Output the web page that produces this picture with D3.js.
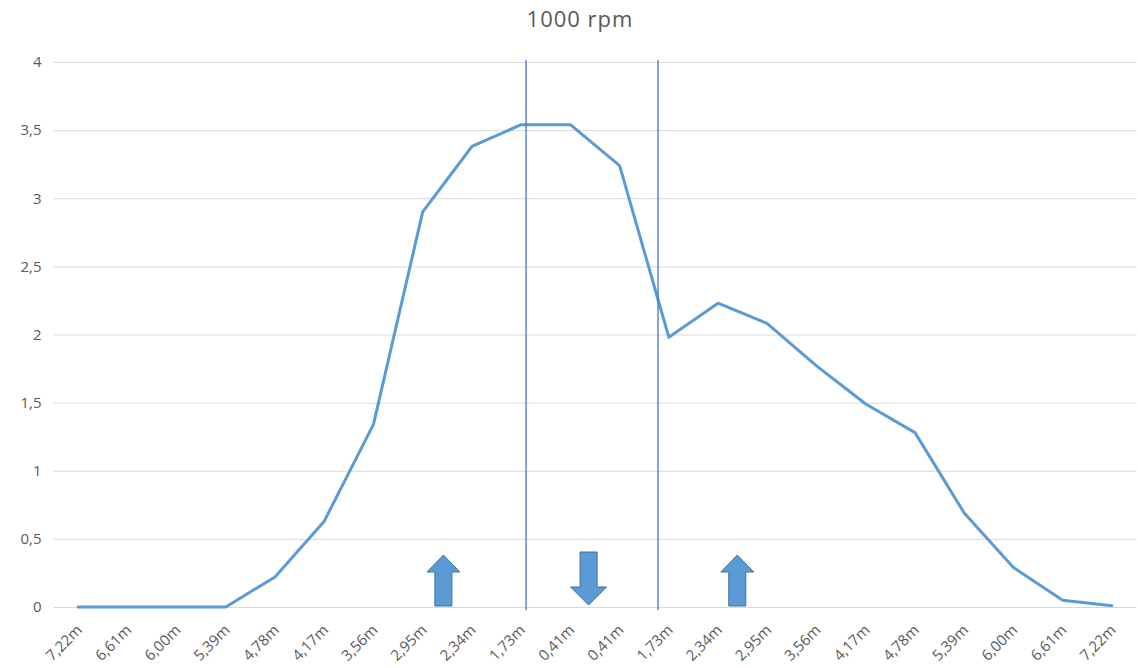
<!DOCTYPE html>
<html>
<head>
<meta charset="utf-8">
<script src="https://cdn.jsdelivr.net/npm/d3@7"></script>
<style>
  html, body { margin: 0; padding: 0; background: #ffffff; }
  svg { display: block; }
  text { font-family: "Open Sans", "Liberation Sans", sans-serif; }
</style>
</head>
<body>
<svg id="chart" width="1138" height="668"></svg>
<script>
// ---- data ----
const title = "1000 rpm";
const categories = ["7,22m","6,61m","6,00m","5,39m","4,78m","4,17m","3,56m","2,95m","2,34m","1,73m","0,41m",
                    "0,41m","1,73m","2,34m","2,95m","3,56m","4,17m","4,78m","5,39m","6,00m","6,61m","7,22m"];
const values = [0, 0, 0, 0, 0.22, 0.63, 1.34, 2.90, 3.38, 3.54, 3.54,
                3.24, 1.98, 2.23, 2.08, 1.77, 1.49, 1.28, 0.69, 0.29, 0.05, 0.01];
const yTicks = [0, 0.5, 1, 1.5, 2, 2.5, 3, 3.5, 4];
// vertical marker lines (position in category-index units)
const markerLines = [9.1, 11.78];
// arrows: position in category-index units, direction
const arrowPos = [7.42, 10.37, 13.39];
const arrowDir = ["up", "down", "up"];

// ---- layout ----
const svg = d3.select("#chart");
const margin = {left: 53.5, right: 1.5, top: 62, bottom: 61};
const W = 1138, H = 668;

const x = d3.scaleBand().domain(d3.range(categories.length))
  .range([margin.left, W - margin.right]).padding(0);
const xc = i => x(i) + x.bandwidth() / 2;
const xIdx = d3.scaleLinear().domain([0, categories.length - 1]).range([xc(0), xc(categories.length - 1)]);
const y = d3.scaleLinear().domain([0, 4]).range([H - margin.bottom, margin.top]);

const fmt = v => String(v).replace(".", ",");

// title
svg.append("text").attr("x", 580).attr("y", 27)
  .attr("text-anchor", "middle").attr("fill", "#595959")
  .style("font-size", "22px").style("letter-spacing", "1px").text(title);

// gridlines + y axis labels
const yAxis = d3.axisLeft(y).tickValues(yTicks).tickFormat(fmt)
  .tickSize(-(W - margin.right - margin.left)).tickPadding(12);
const gy = svg.append("g").attr("transform", `translate(${margin.left},0)`).call(yAxis);
gy.select(".domain").remove();
gy.selectAll(".tick line").attr("stroke", "#D9D9D9").attr("stroke-width", 1);
gy.selectAll(".tick text").attr("fill", "#595959").style("font-size", "15px");

// x axis labels
const xAxis = d3.axisBottom(x).tickFormat(i => categories[i]).tickSize(0);
const gx = svg.append("g").attr("transform", `translate(0,${y(0)})`).call(xAxis);
gx.select(".domain").remove();
gx.selectAll(".tick text")
  .attr("fill", "#595959").style("font-size", "15px")
  .attr("text-anchor", "end")
  .attr("dy", null).attr("y", null)
  .attr("transform", "translate(5,24) rotate(-45)");

// series line
const line = d3.line().x((d, i) => xc(i)).y(d => y(d));
svg.append("path").datum(values).attr("d", line)
  .attr("fill", "none").attr("stroke", "#5B9BD5").attr("stroke-width", 3)
  .attr("stroke-linejoin", "round").attr("stroke-linecap", "round");

// vertical marker lines
svg.selectAll("line.marker").data(markerLines).enter().append("line")
  .attr("class", "marker")
  .attr("x1", d => xIdx(d)).attr("x2", d => xIdx(d))
  .attr("y1", y(4) - 2).attr("y2", y(0) + 3)
  .attr("stroke", "#4472C4").attr("stroke-width", 1.3);

// arrows
function arrowPath(cx, dir) {
  const base = y(0) - 1, tipH = 51, headLen = 17, shaftW = 17, headW = 33;
  if (dir === "up") {
    const top = base - tipH;
    return `M${cx - shaftW/2},${base} L${cx - shaftW/2},${top + headLen} L${cx - headW/2},${top + headLen}
            L${cx},${top} L${cx + headW/2},${top + headLen} L${cx + shaftW/2},${top + headLen}
            L${cx + shaftW/2},${base} Z`;
  } else {
    const top = base - 54, tip = base - 1, headStart = tip - 18, hw = 36;
    return `M${cx - shaftW/2},${top} L${cx + shaftW/2},${top} L${cx + shaftW/2},${headStart}
            L${cx + hw/2},${headStart} L${cx},${tip} L${cx - hw/2},${headStart} L${cx - shaftW/2},${headStart} Z`;
  }
}
svg.selectAll("path.arrow").data(arrowPos).enter().append("path")
  .attr("class", "arrow")
  .attr("d", (d, i) => arrowPath(xIdx(d), arrowDir[i]))
  .attr("fill", "#5B9BD5").attr("stroke", "#41719C").attr("stroke-width", 1);
</script>
</body>
</html>
